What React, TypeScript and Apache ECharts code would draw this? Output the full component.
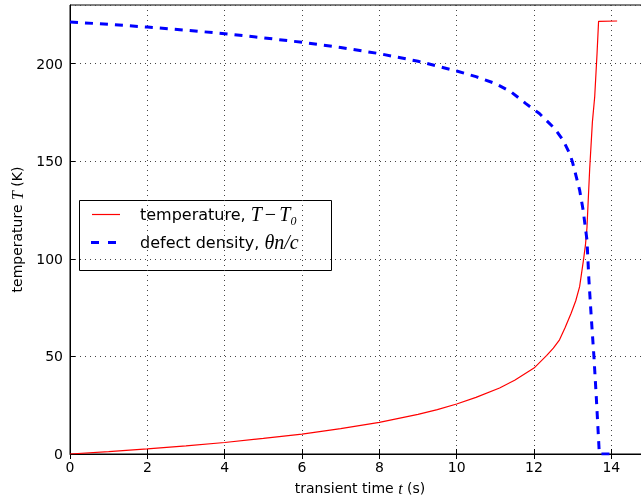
import React, { useEffect, useRef } from "react";
import * as echarts from "echarts";

// temperature rise T - T0 (K) vs transient time t (s)
const tempTime = [0, 1, 2, 3, 4, 5, 6, 7, 8, 9, 9.5, 10, 10.5, 11.11, 11.5, 12, 12.33, 12.5, 12.66, 12.8, 12.96, 13.08, 13.18, 13.28, 13.33, 13.37, 13.44, 13.51, 13.57, 13.63, 13.67, 14.15];
const tempValues = [0, 1.2, 2.6, 4.2, 5.9, 8.0, 10.2, 13.0, 16.2, 20.3, 22.7, 25.6, 29.0, 33.8, 37.8, 44, 50.5, 54.2, 58.5, 64.5, 72.1, 78.5, 85.7, 99.4, 107, 116, 146, 170, 183, 205, 221.6, 221.8];

// defect density theta*n/c vs transient time t (s)
const defTime = [0, 1, 2, 3, 4, 5, 6, 7, 8, 9, 10, 10.5, 11, 11.4, 11.79, 12.14, 12.3, 12.49, 12.62, 12.75, 12.92, 12.99, 13.05, 13.18, 13.27, 13.37, 13.42, 13.48, 13.55, 13.61, 13.69, 14.0];
const defValues = [221.3, 220.1, 218.7, 217.1, 215.3, 213.2, 210.9, 208.2, 205.1, 201.2, 196.2, 193.3, 189.8, 185.6, 179.5, 174.4, 171.3, 167.6, 164.4, 160.8, 154, 149.9, 145.4, 135.2, 125, 109.6, 89.2, 70.4, 49.9, 29.5, 0, 0];

const xTicks = [0, 2, 4, 6, 8, 10, 12, 14];
const yTicks = [0, 50, 100, 150, 200];

const SANS = "DejaVu Sans";
const SERIF = "Liberation Serif";

export default function App() {
  const ref = useRef<HTMLDivElement>(null);
  useEffect(() => {
    if (!ref.current) return;
    const chart = echarts.init(ref.current, null, { renderer: "svg" });
    const mathRich = {
      a: { fontFamily: SANS, fontSize: 14, color: "#000" },
      m: { fontFamily: SERIF, fontStyle: "italic", fontSize: 16, color: "#000" },
    };
    const legendRich = {
      a: { fontFamily: SANS, fontSize: 16, color: "#000" },
      m: { fontFamily: SERIF, fontStyle: "italic", fontSize: 20, color: "#000" },
      o: { fontFamily: SERIF, fontSize: 20, color: "#000", padding: [0, 3, 0, 3] },
    };
    const gridLine = { show: true, lineStyle: { color: "#444", width: 1, type: [1, 4] } };
    chart.setOption({
      animation: false,
      textStyle: { fontFamily: SANS },
      grid: { left: 70, top: 5, right: 10, bottom: 48, show: true, borderColor: "#000", borderWidth: 1, backgroundColor: "#fff" },
      xAxis: [
        {
          type: "value",
          min: 0,
          max: 15,
          interval: 2,
          name: "{a|transient time }{m|t}{a| (s)}",
          nameLocation: "middle",
          nameGap: 26,
          nameTextStyle: { fontSize: 14, color: "#000", rich: mathRich },
          axisLine: { show: true, onZero: false, lineStyle: { color: "#000", width: 1 } },
          axisTick: { show: true, inside: true, length: 5, lineStyle: { color: "#000" } },
          axisLabel: {
            fontSize: 14, color: "#000", margin: 6, showMaxLabel: false,
            formatter: (v: number) => (xTicks.includes(v) ? String(v) : ""),
          },
          splitLine: gridLine,
        },
        {
          type: "value",
          position: "top",
          min: 0,
          max: 15,
          interval: 2,
          axisLine: { show: false },
          axisTick: { show: true, inside: true, length: 5, lineStyle: { color: "#000" } },
          axisLabel: { show: false },
          splitLine: { show: false },
        },
      ],
      yAxis: {
        type: "value",
        min: 0,
        max: 230,
        interval: 50,
        name: "{a|temperature }{m|T}{a| (K)}",
        nameLocation: "middle",
        nameGap: 45,
        nameTextStyle: { fontSize: 14, color: "#000", rich: mathRich },
        axisLine: { show: true, onZero: false, lineStyle: { color: "#000", width: 1 } },
        axisTick: { show: true, inside: true, length: 5, lineStyle: { color: "#000" } },
        axisLabel: {
          fontSize: 14, color: "#000", margin: 7, showMaxLabel: false,
          formatter: (v: number) => (yTicks.includes(v) ? String(v) : ""),
        },
        splitLine: gridLine,
      },
      series: [
        {
          type: "line",
          name: "temperature",
          data: tempTime.map((t, i) => [t, tempValues[i]]),
          showSymbol: false,
          lineStyle: { color: "#ff0000", width: 1.2 },
          z: 3,
        },
        {
          type: "line",
          name: "defect density",
          data: defTime.map((t, i) => [t, defValues[i]]),
          showSymbol: false,
          lineStyle: { color: "#0000ff", width: 3, type: [8, 7] },
          z: 4,
        },
      ],
      graphic: [
        {
          type: "group",
          z: 100,
          children: [
            { type: "rect", shape: { x: 79.5, y: 200.5, width: 252, height: 70 }, style: { fill: "#fff", stroke: "#000", lineWidth: 1 } },
            { type: "line", shape: { x1: 92, y1: 214.5, x2: 120, y2: 214.5 }, style: { stroke: "#ff0000", lineWidth: 1.2 } },
            { type: "line", shape: { x1: 91, y1: 242.5, x2: 121, y2: 242.5 }, style: { stroke: "#0000ff", lineWidth: 3, lineDash: [8, 9] } },
            {
              type: "text",
              x: 140,
              y: 214,
              style: {
                text: "{a|temperature, }{m|T}{o|−}{m|T₀}",
                rich: legendRich,
                verticalAlign: "middle",
                align: "left",
              },
            },
            {
              type: "text",
              x: 140,
              y: 242,
              style: {
                text: "{a|defect density, }{m|θn/c}",
                rich: legendRich,
                verticalAlign: "middle",
                align: "left",
              },
            },
          ],
        },
      ],
    });
    return () => chart.dispose();
  }, []);
  return <div ref={ref} style={{ position: "fixed", left: 0, top: 0, width: 660, height: 502 }} />;
}
